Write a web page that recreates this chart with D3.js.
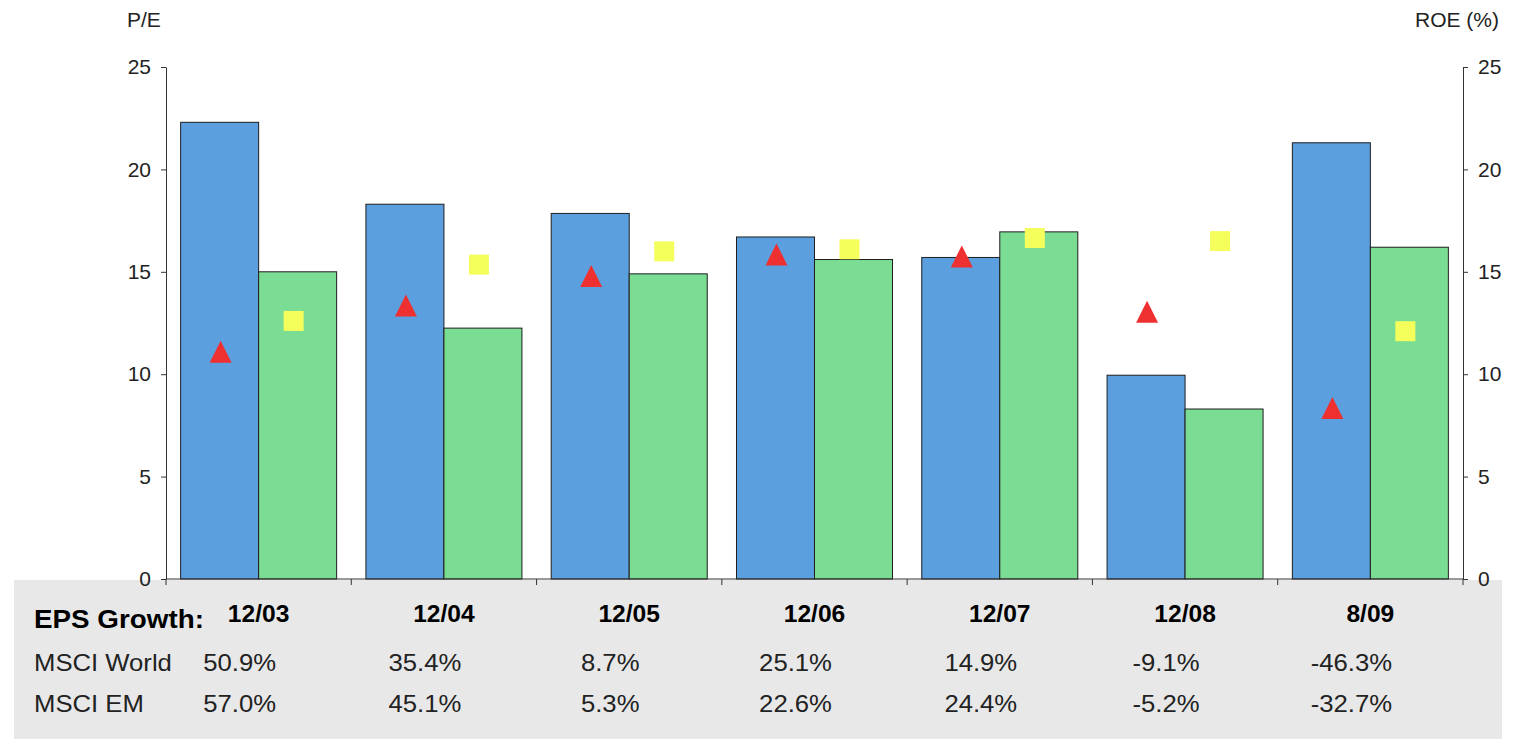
<!DOCTYPE html>
<html lang="en">
<head>
<meta charset="utf-8" />
<script src="https://cdn.jsdelivr.net/npm/d3@7"></script>
<style>
  body { margin: 0; background: #fff; }
  svg { font-family: "Liberation Sans", Arial, Helvetica, sans-serif; }
  .axis text { font-size: 21px; fill: #222; }
  .axis path, .axis line { stroke: #333; }
</style>
</head>
<body>
<svg id="chart" width="1523" height="740"></svg>
<script>
// categories and values
var categories = ["12/03", "12/04", "12/05", "12/06", "12/07", "12/08", "8/09"];
var peWorld  = [22.3, 18.3, 17.85, 16.7, 15.7, 9.95, 21.3];
var peEM     = [15.0, 12.25, 14.9, 15.6, 16.95, 8.3, 16.2];
var roeWorld = [11.1, 13.35, 14.8, 15.85, 15.75, 13.05, 8.35];
var roeEM    = [12.6, 15.35, 16.0, 16.1, 16.65, 16.5, 12.1];
var epsWorld = ["50.9%", "35.4%", "8.7%", "25.1%", "14.9%", "-9.1%", "-46.3%"];
var epsEM    = ["57.0%", "45.1%", "5.3%", "22.6%", "24.4%", "-5.2%", "-32.7%"];
var yTicks = [0, 5, 10, 15, 20, 25];

var svg = d3.select("#chart");

var plotLeft = 166, plotRight = 1463, plotTop = 67, plotBottom = 579;

var x = d3.scaleBand().domain(categories).range([plotLeft, plotRight]).padding(0);
var bw = x.bandwidth();
var xInner = d3.scaleBand().domain(["world", "em"]).range([bw * 0.079, bw * 0.921]).padding(0);

var yLeft = d3.scaleLinear().domain([0, 25]).range([plotBottom, plotTop]);
var yRight = d3.scaleLinear().domain([0, 25]).range([plotBottom, plotTop]);

// table text is a little wider than Liberation Sans
var sx = 1.07;
function place(px, py) { return "translate(" + px + "," + py + ") scale(" + sx + ",1)"; }

// grey table panel
svg.append("rect")
    .attr("x", 14).attr("y", 580)
    .attr("width", 1488).attr("height", 159)
    .attr("fill", "#e8e8e8");

// bars
var groups = svg.selectAll("g.cat")
  .data(categories)
  .enter().append("g")
    .attr("class", "cat")
    .attr("transform", function(d) { return "translate(" + x(d) + ",0)"; });

groups.append("rect")
    .attr("x", xInner("world"))
    .attr("y", function(d, i) { return yLeft(peWorld[i]); })
    .attr("width", xInner.bandwidth())
    .attr("height", function(d, i) { return plotBottom - yLeft(peWorld[i]); })
    .attr("fill", "#5b9fdf")
    .attr("stroke", "#1e1e1e")
    .attr("stroke-width", 1);

groups.append("rect")
    .attr("x", xInner("em"))
    .attr("y", function(d, i) { return yLeft(peEM[i]); })
    .attr("width", xInner.bandwidth())
    .attr("height", function(d, i) { return plotBottom - yLeft(peEM[i]); })
    .attr("fill", "#7bdd94")
    .attr("stroke", "#1e1e1e")
    .attr("stroke-width", 1);

// ROE markers
var triOffset = -38, sqOffset = 35;

svg.selectAll("path.tri")
  .data(categories)
  .enter().append("path")
    .attr("class", "tri")
    .attr("d", "M0,-11L11,11L-11,11Z")
    .attr("fill", "#ef3030")
    .attr("transform", function(d, i) {
      return "translate(" + (x(d) + bw / 2 + triOffset) + "," + yRight(roeWorld[i]) + ")";
    });

svg.selectAll("path.sq")
  .data(categories)
  .enter().append("path")
    .attr("class", "sq")
    .attr("d", d3.symbol().type(d3.symbolSquare).size(400))
    .attr("fill", "#f4ff5c")
    .attr("transform", function(d, i) {
      return "translate(" + (x(d) + bw / 2 + sqOffset) + "," + yRight(roeEM[i]) + ")";
    });

// axes
svg.append("g")
    .attr("class", "axis")
    .attr("transform", "translate(" + plotLeft + ",0)")
    .call(d3.axisLeft(yLeft).tickValues(yTicks).tickSize(5).tickPadding(10).tickSizeOuter(0));

svg.append("g")
    .attr("class", "axis")
    .attr("transform", "translate(" + plotRight + ",0)")
    .call(d3.axisRight(yRight).tickValues(yTicks).tickSize(5).tickPadding(10).tickSizeOuter(0));

var xAxis = svg.append("g").attr("class", "axis");
xAxis.append("line")
    .attr("x1", plotLeft).attr("x2", plotRight)
    .attr("y1", plotBottom).attr("y2", plotBottom)
    .attr("stroke", "#333");
xAxis.selectAll("line.xt")
  .data(categories.concat(["end"]))
  .enter().append("line")
    .attr("class", "xt")
    .attr("x1", function(d, i) { return plotLeft + i * bw; })
    .attr("x2", function(d, i) { return plotLeft + i * bw; })
    .attr("y1", plotBottom).attr("y2", plotBottom + 6)
    .attr("stroke", "#333");

// axis titles
svg.append("text").attr("x", 127).attr("y", 27)
    .attr("font-size", 21).attr("fill", "#222").text("P/E");
svg.append("text").attr("x", 1499).attr("y", 27)
    .attr("text-anchor", "end")
    .attr("font-size", 21).attr("fill", "#222").text("ROE (%)");

// EPS growth table
svg.append("text").attr("transform", place(34, 628))
    .attr("font-size", 26).attr("font-weight", "bold").attr("fill", "#000")
    .text("EPS Growth:");

svg.selectAll("text.date")
  .data(categories)
  .enter().append("text")
    .attr("class", "date")
    .attr("transform", function(d) { return place(x(d) + bw / 2, 622); })
    .attr("text-anchor", "middle")
    .attr("font-size", 23).attr("font-weight", "bold").attr("fill", "#000")
    .text(function(d) { return d; });

var rows = [
  { label: "MSCI World", values: epsWorld, y: 671 },
  { label: "MSCI EM", values: epsEM, y: 712 }
];

rows.forEach(function(r) {
  svg.append("text").attr("transform", place(34, r.y))
      .attr("font-size", 24).attr("fill", "#222")
      .text(r.label);
  svg.selectAll(null)
    .data(r.values)
    .enter().append("text")
      .attr("transform", function(d, i) { return place(x(categories[i]) + bw / 2 - 19, r.y); })
      .attr("text-anchor", "middle")
      .attr("font-size", 24).attr("fill", "#222")
      .text(function(d) { return d; });
});
</script>
</body>
</html>
